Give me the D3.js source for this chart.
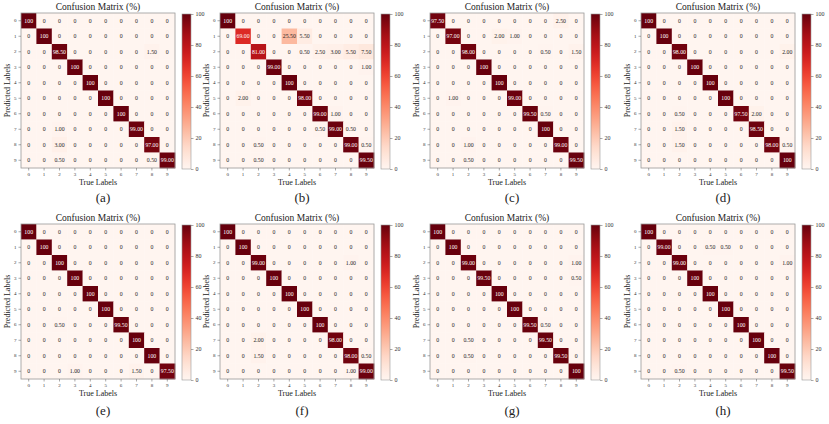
<!DOCTYPE html>
<html>
<head>
<meta charset="utf-8">
<script src="https://cdn.jsdelivr.net/npm/d3@7"></script>
<style>
  body { margin: 0; background: #fff; }
  svg { display: block; font-family: "Liberation Serif", "DejaVu Serif", serif; }
  .cell-text { font-size: 5.8px; }
  .tick text { font-size: 5px; font-family: "Liberation Serif", serif; fill: #333; }
  .cbar .tick text { font-size: 6px; }
  .tick line { stroke: #555; stroke-width: 0.5; }
  .domain { display: none; }
</style>
</head>
<body>
<svg id="chart"></svg>
<script>
const classLabels = ["0", "1", "2", "3", "4", "5", "6", "7", "8", "9"];
const captions = ["(a)", "(b)", "(c)", "(d)", "(e)", "(f)", "(g)", "(h)"];
const colorbarTicks = [0, 20, 40, 60, 80, 100];

// rows = predicted label, columns = true label
const matA = [
  [100, 0, 0, 0, 0, 0, 0, 0, 0, 0],
  [0, 100, 0, 0, 0, 0, 0, 0, 0, 0],
  [0, 0, 98.5, 0, 0, 0, 0, 0, 1.5, 0],
  [0, 0, 0, 100, 0, 0, 0, 0, 0, 0],
  [0, 0, 0, 0, 100, 0, 0, 0, 0, 0],
  [0, 0, 0, 0, 0, 100, 0, 0, 0, 0],
  [0, 0, 0, 0, 0, 0, 100, 0, 0, 0],
  [0, 0, 1, 0, 0, 0, 0, 99, 0, 0],
  [0, 0, 3, 0, 0, 0, 0, 0, 97, 0],
  [0, 0, 0.5, 0, 0, 0, 0, 0, 0.5, 99]
];
const matB = [
  [100, 0, 0, 0, 0, 0, 0, 0, 0, 0],
  [0, 69, 0, 0, 25.5, 5.5, 0, 0, 0, 0],
  [0, 0, 81, 0, 0, 0.5, 2.5, 3, 5.5, 7.5],
  [0, 0, 0, 99, 0, 0, 0, 0, 0, 1],
  [0, 0, 0, 0, 100, 0, 0, 0, 0, 0],
  [0, 2, 0, 0, 0, 98, 0, 0, 0, 0],
  [0, 0, 0, 0, 0, 0, 99, 1, 0, 0],
  [0, 0, 0, 0, 0, 0, 0.5, 99, 0.5, 0],
  [0, 0, 0.5, 0, 0, 0, 0, 0, 99, 0.5],
  [0, 0, 0.5, 0, 0, 0, 0, 0, 0, 99.5]
];
const matC = [
  [97.5, 0, 0, 0, 0, 0, 0, 0, 2.5, 0],
  [0, 97, 0, 0, 2, 1, 0, 0, 0, 0],
  [0, 0, 98, 0, 0, 0, 0, 0.5, 0, 1.5],
  [0, 0, 0, 100, 0, 0, 0, 0, 0, 0],
  [0, 0, 0, 0, 100, 0, 0, 0, 0, 0],
  [0, 1, 0, 0, 0, 99, 0, 0, 0, 0],
  [0, 0, 0, 0, 0, 0, 99.5, 0.5, 0, 0],
  [0, 0, 0, 0, 0, 0, 0, 100, 0, 0],
  [0, 0, 1, 0, 0, 0, 0, 0, 99, 0],
  [0, 0, 0.5, 0, 0, 0, 0, 0, 0, 99.5]
];
const matD = [
  [100, 0, 0, 0, 0, 0, 0, 0, 0, 0],
  [0, 100, 0, 0, 0, 0, 0, 0, 0, 0],
  [0, 0, 98, 0, 0, 0, 0, 0, 0, 2],
  [0, 0, 0, 100, 0, 0, 0, 0, 0, 0],
  [0, 0, 0, 0, 100, 0, 0, 0, 0, 0],
  [0, 0, 0, 0, 0, 100, 0, 0, 0, 0],
  [0, 0, 0.5, 0, 0, 0, 97.5, 2, 0, 0],
  [0, 0, 1.5, 0, 0, 0, 0, 98.5, 0, 0],
  [0, 0, 1.5, 0, 0, 0, 0, 0, 98, 0.5],
  [0, 0, 0, 0, 0, 0, 0, 0, 0, 100]
];
const matE = [
  [100, 0, 0, 0, 0, 0, 0, 0, 0, 0],
  [0, 100, 0, 0, 0, 0, 0, 0, 0, 0],
  [0, 0, 100, 0, 0, 0, 0, 0, 0, 0],
  [0, 0, 0, 100, 0, 0, 0, 0, 0, 0],
  [0, 0, 0, 0, 100, 0, 0, 0, 0, 0],
  [0, 0, 0, 0, 0, 100, 0, 0, 0, 0],
  [0, 0, 0.5, 0, 0, 0, 99.5, 0, 0, 0],
  [0, 0, 0, 0, 0, 0, 0, 100, 0, 0],
  [0, 0, 0, 0, 0, 0, 0, 0, 100, 0],
  [0, 0, 0, 1, 0, 0, 0, 1.5, 0, 97.5]
];
const matF = [
  [100, 0, 0, 0, 0, 0, 0, 0, 0, 0],
  [0, 100, 0, 0, 0, 0, 0, 0, 0, 0],
  [0, 0, 99, 0, 0, 0, 0, 0, 1, 0],
  [0, 0, 0, 100, 0, 0, 0, 0, 0, 0],
  [0, 0, 0, 0, 100, 0, 0, 0, 0, 0],
  [0, 0, 0, 0, 0, 100, 0, 0, 0, 0],
  [0, 0, 0, 0, 0, 0, 100, 0, 0, 0],
  [0, 0, 2, 0, 0, 0, 0, 98, 0, 0],
  [0, 0, 1.5, 0, 0, 0, 0, 0, 98, 0.5],
  [0, 0, 0, 0, 0, 0, 0, 0, 1, 99]
];
const matG = [
  [100, 0, 0, 0, 0, 0, 0, 0, 0, 0],
  [0, 100, 0, 0, 0, 0, 0, 0, 0, 0],
  [0, 0, 99, 0, 0, 0, 0, 0, 0, 1],
  [0, 0, 0, 99.5, 0, 0, 0, 0, 0, 0.5],
  [0, 0, 0, 0, 100, 0, 0, 0, 0, 0],
  [0, 0, 0, 0, 0, 100, 0, 0, 0, 0],
  [0, 0, 0, 0, 0, 0, 99.5, 0.5, 0, 0],
  [0, 0, 0.5, 0, 0, 0, 0, 99.5, 0, 0],
  [0, 0, 0.5, 0, 0, 0, 0, 0, 99.5, 0],
  [0, 0, 0, 0, 0, 0, 0, 0, 0, 100]
];
const matH = [
  [100, 0, 0, 0, 0, 0, 0, 0, 0, 0],
  [0, 99, 0, 0, 0.5, 0.5, 0, 0, 0, 0],
  [0, 0, 99, 0, 0, 0, 0, 0, 0, 1],
  [0, 0, 0, 100, 0, 0, 0, 0, 0, 0],
  [0, 0, 0, 0, 100, 0, 0, 0, 0, 0],
  [0, 0, 0, 0, 0, 100, 0, 0, 0, 0],
  [0, 0, 0, 0, 0, 0, 100, 0, 0, 0],
  [0, 0, 0, 0, 0, 0, 0, 100, 0, 0],
  [0, 0, 0, 0, 0, 0, 0, 0, 100, 0],
  [0, 0, 0.5, 0, 0, 0, 0, 0, 0, 99.5]
];

const matrices = [matA, matB, matC, matD, matE, matF, matG, matH];

const width = 829;
const height = 424;
const svg = d3.select("#chart").attr("width", width).attr("height", height);
svg.append("rect").attr("width", width).attr("height", height).attr("fill", "#fff");

// plot box positions
const colLeft = [21, 220, 430, 641];
const rowTop = [13, 224];
const plotW = 154;
const plotH = 155;

const color = d3.scaleSequential(d3.interpolateReds).domain([0, 100]);

// gradient for colorbar
const defs = svg.append("defs");
const grad = defs.append("linearGradient")
  .attr("id", "redsGrad")
  .attr("x1", "0").attr("y1", "1").attr("x2", "0").attr("y2", "0");
d3.range(0, 101, 5).forEach(function (v) {
  grad.append("stop").attr("offset", v + "%").attr("stop-color", color(v));
});

function fmt(v) {
  if (v === 100) return "100";
  if (v === 0) return "0";
  return v.toFixed(2);
}

matrices.forEach(function (mat, idx) {
  const left = colLeft[idx % 4];
  const top = rowTop[Math.floor(idx / 4)];

  const g = svg.append("g").attr("transform", `translate(${left},${top})`);

  const xScale = d3.scaleBand().domain(classLabels).range([0, plotW]);
  const yScale = d3.scaleBand().domain(classLabels).range([0, plotH]);

  const cells = [];
  mat.forEach(function (row, r) {
    row.forEach(function (v, c) {
      cells.push({ r: classLabels[r], c: classLabels[c], v: v });
    });
  });

  g.selectAll("rect.cell")
    .data(cells)
    .enter()
    .append("rect")
    .attr("class", "cell")
    .attr("x", (d) => xScale(d.c))
    .attr("y", (d) => yScale(d.r))
    .attr("width", xScale.bandwidth() + 0.3)
    .attr("height", yScale.bandwidth() + 0.3)
    .attr("fill", (d) => color(d.v));

  g.selectAll("text.cell-text")
    .data(cells)
    .enter()
    .append("text")
    .attr("class", "cell-text")
    .attr("x", (d) => xScale(d.c) + xScale.bandwidth() / 2)
    .attr("y", (d) => yScale(d.r) + yScale.bandwidth() / 2)
    .attr("dy", "0.35em")
    .attr("text-anchor", "middle")
    .attr("fill", (d) => (d.v > 50 ? "#fff" : "#222"))
    .text((d) => fmt(d.v));

  g.append("rect")
    .attr("width", plotW)
    .attr("height", plotH)
    .attr("fill", "none")
    .attr("stroke", "#999")
    .attr("stroke-width", 0.8);

  g.append("g")
    .attr("transform", `translate(0,${plotH})`)
    .call(d3.axisBottom(xScale).tickSize(2.5).tickPadding(2));

  g.append("g")
    .call(d3.axisLeft(yScale).tickSize(2.5).tickPadding(2));

  g.append("text")
    .attr("x", plotW / 2)
    .attr("y", -3)
    .attr("text-anchor", "middle")
    .attr("font-size", 9.5)
    .attr("fill", "#222")
    .text("Confusion Matrix (%)");

  g.append("text")
    .attr("x", plotW / 2)
    .attr("y", plotH + 17)
    .attr("text-anchor", "middle")
    .attr("font-size", 8)
    .attr("fill", "#222")
    .text("True Labels");

  g.append("text")
    .attr("transform", `translate(-11,${plotH / 2}) rotate(-90)`)
    .attr("text-anchor", "middle")
    .attr("font-size", 8)
    .attr("fill", "#222")
    .text("Predicted Labels");

  // colorbar
  const cbX = plotW + 7;
  const cbW = 9;
  const cbScale = d3.scaleLinear().domain([0, 100]).range([plotH + 1, 1]);
  g.append("rect")
    .attr("x", cbX)
    .attr("y", cbScale(100))
    .attr("width", cbW)
    .attr("height", cbScale(0) - cbScale(100))
    .attr("fill", "url(#redsGrad)")
    .attr("stroke", "#999")
    .attr("stroke-width", 0.6);
  g.append("g")
    .attr("class", "cbar")
    .attr("transform", `translate(${cbX + cbW},0)`)
    .call(d3.axisRight(cbScale).tickValues(colorbarTicks).tickSize(2.5).tickPadding(2));

  g.append("text")
    .attr("x", plotW / 2 + 5)
    .attr("y", plotH + (idx < 4 ? 34 : 36))
    .attr("text-anchor", "middle")
    .attr("font-size", 13)
    .attr("fill", "#222")
    .text(captions[idx]);
});
</script>
</body>
</html>
